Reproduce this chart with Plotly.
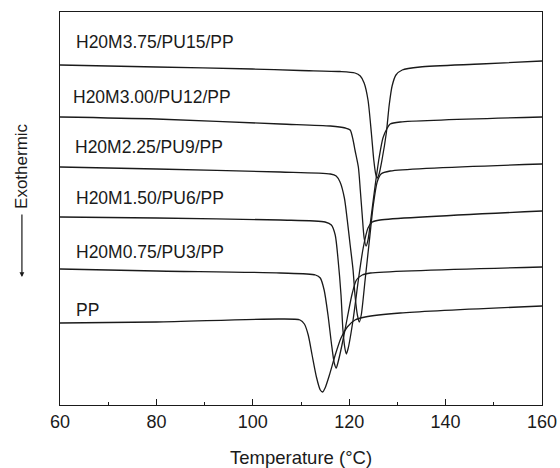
import plotly.graph_objects as go

# ---- data (temperature in °C, heat flow in arbitrary units, exothermic down) ----
labels = ["H20M3.75/PU15/PP", "H20M3.00/PU12/PP", "H20M2.25/PU9/PP",
          "H20M1.50/PU6/PP", "H20M0.75/PU3/PP", "PP"]

t_m375 = [60, 80, 99.9, 109.8, 118.1, 121.2, 122.3, 123.1, 123.9, 124.6, 125.1, 125.5, 125.8,
          126.2, 126.8, 127.7, 128.3, 128.9, 129.7, 131.0, 134.7, 147.2, 160]
h_m375 = [340, 338, 336, 334.5, 333.5, 332, 329, 322, 305, 272, 245, 231, 227,
          231, 245, 272, 300, 319, 330, 335, 338, 341, 344]

t_m300 = [60, 80, 105.7, 116.1, 119.2, 120.2, 120.8, 121.2, 121.9, 122.3, 122.7, 123.1, 123.5,
          123.9, 124.6, 125.4, 126.2, 127.0, 127.9, 128.5, 130.6, 160]
h_m300 = [288, 286, 281, 279, 277, 275, 265, 255, 238, 215, 190, 167, 159,
          165, 190, 220, 247, 267, 277, 281, 283, 288]

t_m225 = [60, 80, 105.7, 116.1, 117.3, 118.1, 119.0, 119.6, 120.2, 120.8, 121.2, 121.7, 122.1,
          122.5, 123.3, 124.2, 125.0, 125.8, 126.6, 128.5, 160]
h_m225 = [238, 236, 233, 231, 229, 223, 207, 185, 160, 135, 110, 90, 83,
          90, 125, 165, 200, 223, 231, 234, 241]

t_m150 = [60, 80, 105.7, 115.0, 116.3, 117.1, 117.7, 118.3, 118.7, 119.1, 119.4,
          119.8, 120.8, 121.9, 122.9, 123.9, 124.8, 126.4, 160]
h_m150 = [188, 187, 185, 183, 180, 170, 145, 110, 75, 57, 51,
          57, 85, 125, 157, 177, 183, 185, 194]

t_m075 = [60, 80, 105.7, 113.0, 114.0, 114.8, 115.6, 116.3, 116.9, 117.3, 117.7,
          118.5, 119.6, 120.6, 121.5, 122.7, 124.4, 160]
h_m075 = [136, 134, 132, 130, 127, 115, 90, 62, 42, 37, 43,
          60, 87, 111, 125, 130, 132, 138]

t_pp = [60, 80, 105.7, 109.8, 110.7, 111.5, 112.3, 113.2, 114.0, 114.5, 115.0,
        115.9, 117.1, 118.3, 119.6, 121.2, 123.3, 130.6, 160]
h_pp = [82, 83, 86, 85, 81, 70, 50, 28, 15, 13, 17,
        30, 50, 67, 78, 85, 88, 92, 99]

temps = [t_m375, t_m300, t_m225, t_m150, t_m075, t_pp]
flows = [h_m375, h_m300, h_m225, h_m150, h_m075, h_pp]

x_ticks = [60, 80, 100, 120, 140, 160]

# ---- figure ----
fig = go.Figure()
for name, t, h in zip(labels, temps, flows):
    fig.add_trace(go.Scatter(x=t, y=h, mode="lines", name=name,
                             line=dict(color="#1a1a1a", width=1.3, shape="spline", smoothing=0.7),
                             showlegend=False, hoverinfo="skip"))

label_pos = [(62.8, 363), (62.2, 308), (62.6, 258), (62.8, 207), (62.8, 153), (63.0, 95)]
font_family = "Liberation Sans, Arial, sans-serif"
for name, (lx, ly) in zip(labels, label_pos):
    fig.add_annotation(x=lx, y=ly, xref="x", yref="y", text=name, showarrow=False,
                       xanchor="left", yanchor="middle",
                       font=dict(family=font_family, size=17.5, color="#1a1a1a"))

# y-axis title "Exothermic" with downward arrow
fig.add_annotation(x=-0.079, y=(405 - 166) / 393, xref="paper", yref="paper", text="Exothermic",
                   textangle=-90, showarrow=False, xanchor="center", yanchor="middle",
                   font=dict(family=font_family, size=17, color="#1a1a1a"))
fig.add_annotation(x=-0.079, y=(405 - 277) / 393, xref="paper", yref="paper", text="",
                   showarrow=True, ax=0, ay=-64, arrowhead=2, arrowsize=0.8,
                   arrowwidth=1.2, arrowcolor="#1a1a1a")

# x-axis title
fig.add_annotation(x=0.5, y=-0.133, xref="paper", yref="paper", text="Temperature (°C)",
                   showarrow=False, xanchor="center", yanchor="middle",
                   font=dict(family=font_family, size=18.5, color="#1a1a1a"))

fig.update_layout(
    width=560, height=468,
    margin=dict(l=60, r=18, t=12, b=63, autoexpand=False),
    paper_bgcolor="white", plot_bgcolor="white",
    font=dict(family=font_family, color="#1a1a1a", size=18),
    xaxis=dict(range=[60, 160], tickvals=x_ticks, ticks="inside", ticklen=6,
               tickwidth=1, tickcolor="#1a1a1a",
               minor=dict(dtick=10, ticks="inside", ticklen=3, tickcolor="#1a1a1a"),
               showline=True, linecolor="#1a1a1a", linewidth=1.2, mirror=True,
               showgrid=False, zeroline=False, automargin=False,
               tickfont=dict(size=18)),
    yaxis=dict(range=[0, 393], showticklabels=False, ticks="",
               showline=True, linecolor="#1a1a1a", linewidth=1.2, mirror=True,
               showgrid=False, zeroline=False, automargin=False),
)

# remove the page's default body margin so the 560x468 figure fills the window exactly
fig.write_html("out.html",
               config={"displayModeBar": False, "staticPlot": True},
               post_script="document.body.style.margin='0';document.body.style.overflow='hidden';")
